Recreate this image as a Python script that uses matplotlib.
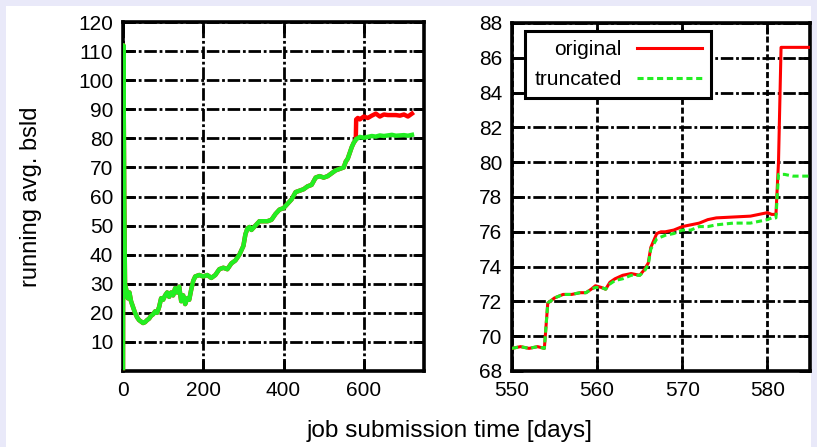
import matplotlib
matplotlib.use("Agg")
import matplotlib.pyplot as plt
from matplotlib.patches import Rectangle

plt.rcParams['font.family'] = ['Liberation Sans', 'DejaVu Sans']

# ---- overview panel data ----
left_days = [0, 1, 3, 5, 8, 12, 16, 20, 25, 30, 35, 40, 45, 50, 55, 60, 65, 70, 75, 80,
             85, 90, 95, 100, 105, 110, 115, 120, 125, 130, 135, 140, 145, 150, 155, 160,
             165, 170, 175, 180, 190, 200, 210, 220, 230, 240, 250, 260, 270, 280, 290,
             300, 305, 310, 315, 320, 330, 340, 350, 360, 370, 380, 390, 400, 410, 420,
             430, 440, 450, 460, 470, 480, 490, 500, 510, 520, 530, 540, 550, 555, 560,
             565, 570, 575, 580, 581, 585, 590, 600, 610, 620, 630, 640, 650, 660, 670,
             680, 690, 700, 710, 720]
left_truncated = [1, 112, 60, 30, 28, 25, 27, 24, 22, 20, 18.5, 17.5, 17, 16.5, 16.8, 17.5,
                  18, 19, 19.5, 20.5, 20, 22, 25, 24.5, 26, 27, 25.5, 27, 26, 28.5, 27, 29,
                  24, 26, 23, 25, 24.5, 28, 31, 32.5, 33, 32.5, 33, 32, 33, 35, 35.5, 35,
                  37, 38, 40, 43, 47, 49, 49.5, 48.5, 50, 51.5, 51.5, 51.5, 52, 54, 55.5,
                  56, 57.5, 59, 61.5, 62, 62.5, 63.5, 64, 66.5, 67, 66.5, 67, 68, 69, 69.5,
                  70, 72, 73, 75, 77, 78.5, 79.5, 79.8, 80, 80.5, 80.2, 80.5, 80.8, 80.6,
                  81, 80.8, 81, 81.2, 80.9, 81, 81.1, 80.9, 81.2]
left_original = left_truncated[:85] + [86.5, 87, 86.5, 87.5, 87, 87.8, 88.5, 87.5, 88.2,
                                       88, 88, 88, 87.8, 88.2, 87.5, 88.5]

# ---- zoomed panel data ----
right_days = [550, 551, 552, 553, 553.8, 554.2, 555, 556, 557, 558, 558.7, 559.3, 559.8,
              560.5, 561, 561.5, 562.1, 563, 564, 565, 565.5, 566, 566.3, 567, 567.5, 568,
              569, 570, 571, 572, 573, 574, 576, 578, 579, 580, 580.5, 581, 581.3, 581.6,
              582, 583, 585]
right_original = [69.3, 69.4, 69.3, 69.4, 69.3, 71.9, 72.2, 72.4, 72.4, 72.5, 72.5, 72.7,
                  72.9, 72.8, 72.7, 73.1, 73.3, 73.5, 73.6, 73.5, 73.8, 74.2, 75.1, 75.9,
                  76.0, 76.0, 76.1, 76.3, 76.4, 76.5, 76.7, 76.8, 76.85, 76.9, 77.0, 77.1,
                  77.0, 77.0, 80.0, 86.6, 86.6, 86.6, 86.6]
right_truncated = [69.3, 69.4, 69.3, 69.4, 69.3, 71.9, 72.2, 72.4, 72.4, 72.5, 72.5, 72.7,
                   72.8, 72.8, 72.7, 73.0, 73.2, 73.3, 73.5, 73.5, 73.7, 74.1, 75.0, 75.6,
                   75.7, 75.8, 75.9, 76.1, 76.1, 76.3, 76.3, 76.4, 76.5, 76.5, 76.6, 76.7,
                   76.8, 76.8, 79.3, 79.3, 79.3, 79.2, 79.2]

left_xticks = [0, 200, 400, 600]
left_yticks = [10, 20, 30, 40, 50, 60, 70, 80, 90, 100, 110, 120]
right_xticks = [550, 560, 570, 580]
right_yticks = [68, 70, 72, 74, 76, 78, 80, 82, 84, 86, 88]

RED = '#ff0000'
GREEN = '#22ee22'
W, H = 817, 447

fig = plt.figure(figsize=(W / 100, H / 100), dpi=100, facecolor='#e9e9f9')
fig.patches.append(Rectangle((6 / W, 0), (811 - 6) / W, (H - 6) / H,
                             transform=fig.transFigure, facecolor='white',
                             edgecolor='none', zorder=-5))

axL = fig.add_axes([123 / W, 1 - 371 / H, (424 - 123) / W, (371 - 22) / H])
axR = fig.add_axes([512 / W, 1 - 371 / H, (810 - 512) / W, (371 - 23) / H])

grid_style = dict(color='black', linewidth=2.0, linestyle=(0, (4.5, 1.0, 1, 1.0)))

for ax in (axL, axR):
    ax.set_zorder(2)
    for s in ax.spines.values():
        s.set_linewidth(2.6)
    ax.tick_params(direction='in', length=8, width=2, top=True, right=True,
                   labelsize=15, pad=7)
    ax.set_axisbelow(True)

# left panel
axL.plot(left_days, left_original, color=RED, lw=3.2, zorder=3)
axL.plot(left_days, left_truncated, color=GREEN, lw=3.2, zorder=4)
axL.set_xlim(0, 750)
axL.set_ylim(0, 120)
axL.set_xticks(left_xticks)
axL.set_yticks(left_yticks)
axL.grid(True, **grid_style)
axL.set_ylabel('running avg. bsld', fontsize=17, labelpad=26)

# right panel
axR.plot(right_days, right_original, color=RED, lw=2.2, zorder=3, label='original')
axR.plot(right_days, right_truncated, color=GREEN, lw=2.2, zorder=4,
         linestyle=(0, (2, 1.2)), label='truncated')
axR.set_xlim(550, 585)
axR.set_ylim(68, 88)
axR.set_xticks(right_xticks)
axR.set_yticks(right_yticks)
axR.grid(True, axis='y', **grid_style)
axR.grid(True, axis='x', color='black', linewidth=2.0, linestyle=(0, (2.2, 1.0)))

leg = axR.legend(loc='upper left', bbox_to_anchor=(0.044, 0.977), borderaxespad=0,
                 markerfirst=False, fontsize=15, handlelength=3.1, handletextpad=0.75,
                 frameon=True, fancybox=False, framealpha=1, borderpad=0.45,
                 labelspacing=0.5)
leg.get_frame().set_edgecolor('black')
leg.get_frame().set_linewidth(2.2)
for t in leg.get_texts():
    t.set_ha('right')
leg._legend_box.align = 'right'

fig.text(450 / W, 1 - 431 / H, 'job submission time [days]', fontsize=17.6,
         ha='center', va='center')

fig.savefig('out.png', dpi=100, facecolor=fig.get_facecolor())
